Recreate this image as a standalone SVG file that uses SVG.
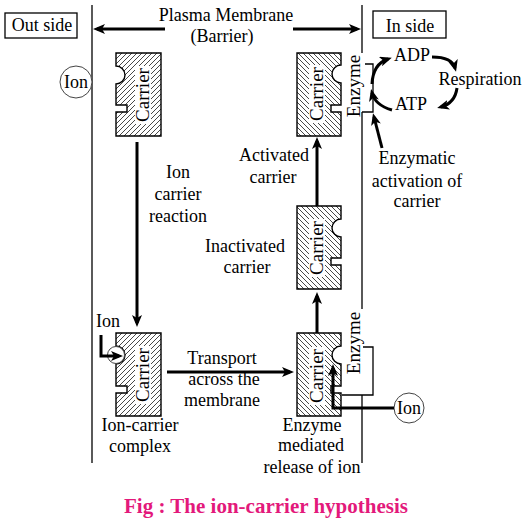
<svg xmlns="http://www.w3.org/2000/svg" width="529" height="523" viewBox="0 0 529 523">
<style>
text{font-family:"Liberation Serif","Times New Roman",serif;font-size:18px;fill:#000;text-anchor:middle}
.rot{font-size:19px}
.cap{font-weight:bold;font-size:21px;fill:#E3197B}
.carrier{stroke:#000;stroke-width:1.4}
.hr{fill:url(#hatchR)}
.hl{fill:url(#hatchL)}
.tbg{fill:#fff;stroke:none}
.thin{fill:none;stroke:#000;stroke-width:1.3}
.arr{fill:none;stroke:#000;stroke-width:3;marker-end:url(#ah)}
.circ{fill:#fff;stroke:#444;stroke-width:1}
</style>
<defs>
<pattern id="hatchR" patternUnits="userSpaceOnUse" width="5" height="5">
<rect width="5" height="5" fill="#fff"/>
<path d="M-1,1 L1,-1 M0,5 L5,0 M4,6 L6,4" stroke="#333" stroke-width="0.9"/>
</pattern>
<pattern id="hatchL" patternUnits="userSpaceOnUse" width="5" height="5">
<rect width="5" height="5" fill="#fff"/>
<path d="M-1,4 L1,6 M0,0 L5,5 M4,-1 L6,1" stroke="#333" stroke-width="0.9"/>
</pattern>
<marker id="ah" viewBox="0 0 12 10" refX="8" refY="5" markerWidth="12" markerHeight="10" markerUnits="userSpaceOnUse" orient="auto">
<path d="M0,0 L12,5 L0,10 L3,5 z" fill="#000"/>
</marker>
</defs>
<rect width="529" height="523" fill="#fff"/>

<g id="membrane">
<line x1="92" y1="5" x2="92" y2="463" class="thin"/>
<path d="M362,5 V53 M362,112 V309 M362,395 V463" class="thin"/>
</g>

<g id="outside">
<rect x="5" y="13" width="72" height="25" class="thin"/>
<text x="42" y="31">Out side</text>
</g>
<g id="inside">
<rect x="373" y="11" width="73" height="27" class="thin"/>
<text x="410" y="32">In side</text>
</g>
<g id="plasma-label">
<text x="226" y="21">Plasma Membrane</text>
<text x="222" y="42">(Barrier)</text>
</g>

<g id="ion-top">
<circle cx="76" cy="82" r="16" class="circ"/>
<text x="76" y="88">Ion</text>
</g>

<g id="carrier1">
<path class="carrier hr" d="M116,53 H161 V136 H116 V112 H127 V105 H116 V84 A9,9 0 0 0 116,66 Z"/>
<rect class="tbg" x="135" y="66" width="16" height="58"/>
<text class="rot" transform="translate(143,95) rotate(-90)" y="6">Carrier</text>
</g>

<g id="carrier2">
<path class="carrier hl" d="M297,53 H341 V65 A9,9 0 0 0 341,83 V105 H331 V112 H341 V136 H297 Z"/>
<rect class="tbg" x="309" y="65" width="16" height="58"/>
<text class="rot" transform="translate(317,94) rotate(-90)" y="6">Carrier</text>
</g>

<g id="enzyme-top">
<text class="rot" transform="translate(355,86) rotate(-90)" y="5">Enzyme</text>
<path class="thin" d="M365,64 H373 V112 H362"/>
</g>

<g id="carrier3">
<path class="carrier hl" d="M297,206 H341 V219 A9,9 0 0 0 341,237 V258 H331 V265 H341 V289 H297 Z"/>
<rect class="tbg" x="309" y="219" width="16" height="58"/>
<text class="rot" transform="translate(317,248) rotate(-90)" y="6">Carrier</text>
</g>

<g id="carrier4">
<path class="carrier hr" d="M116,333 H161 V416 H116 V393 H127 V386 H116 V364 A9,9 0 0 0 116,346 Z"/>
<rect class="tbg" x="135" y="346" width="16" height="58"/>
<text class="rot" transform="translate(143,375) rotate(-90)" y="6">Carrier</text>
<circle cx="116" cy="355" r="8.5" class="circ"/>
</g>

<g id="carrier5">
<path class="carrier hl" d="M297,333 H341 V346 A9,9 0 0 0 341,364 V386 H331 V393 H341 V416 H297 Z"/>
<rect class="tbg" x="309" y="347" width="16" height="58"/>
<text class="rot" transform="translate(317,376) rotate(-90)" y="6">Carrier</text>
</g>

<g id="enzyme-bottom">
<text class="rot" transform="translate(355,343) rotate(-90)" y="5">Enzyme</text>
<path class="thin" d="M363,347 H373 V395 H342"/>
</g>

<g id="ion-bottom">
<circle cx="409" cy="408" r="15" class="circ"/>
<text x="409" y="414">Ion</text>
</g>

<g id="atp-cycle">
<text x="412" y="61">ADP</text>
<text x="480" y="85">Respiration</text>
<text x="411" y="110">ATP</text>
</g>

<g id="labels">
<text x="108" y="327">Ion</text>
<text x="178" y="178">Ion</text>
<text x="178" y="200">carrier</text>
<text x="178" y="222">reaction</text>
<text x="274" y="161">Activated</text>
<text x="273" y="183">carrier</text>
<text x="245" y="252">Inactivated</text>
<text x="247" y="273">carrier</text>
<text x="417" y="164">Enzymatic</text>
<text x="417" y="187">activation of</text>
<text x="417" y="207">carrier</text>
<text x="222" y="364">Transport</text>
<text x="224" y="385">across the</text>
<text x="222" y="406">membrane</text>
<text x="140" y="431">Ion-carrier</text>
<text x="140" y="452">complex</text>
<text x="312" y="431">Enzyme</text>
<text x="311" y="451">mediated</text>
<text x="312" y="473">release of ion</text>
</g>

<g id="connectors">
<path class="arr" d="M165,29 H97"/>
<path class="arr" d="M293,29 H357"/>
<path class="arr" d="M137,142 V323"/>
<path class="arr" d="M101,335 V356 H119"/>
<path class="arr" d="M167,372 H290"/>
<path class="arr" d="M317,333 V296"/>
<path class="arr" d="M317,206 V141"/>
<path class="arr" d="M394,408 H333 V368"/>
<path class="arr" d="M382,148 L374,117"/>
<path class="arr" d="M372,84 Q373,64 388,59"/>
<path class="arr" d="M392,110 Q375,105 372,93"/>
<path class="arr" d="M432,57 Q452,57 455,68"/>
<path class="arr" d="M457,88 Q455,103 441,107"/>
</g>

<text class="cap" x="266" y="513">Fig : The ion-carrier hypothesis</text>
</svg>
